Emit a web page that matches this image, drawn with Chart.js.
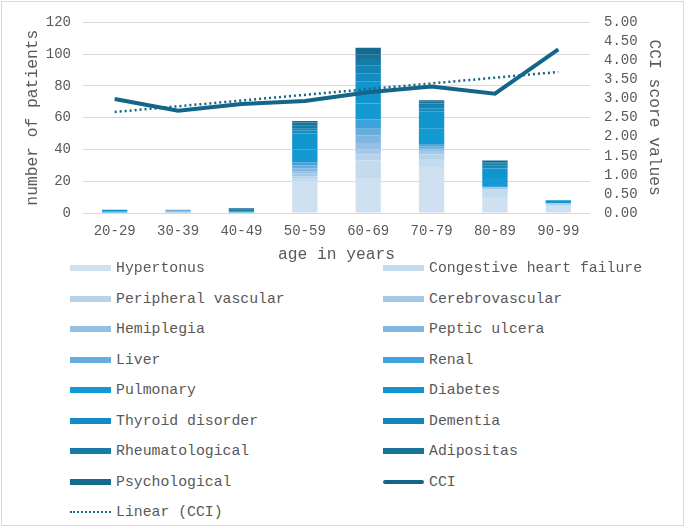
<!DOCTYPE html>
<html>
<head>
<meta charset="utf-8">
<script src="https://cdn.jsdelivr.net/npm/chart.js@4/dist/chart.umd.min.js"></script>
<style>
    body { margin: 0; background: #fff; }
    #wrap { position: relative; width: 685px; height: 528px; overflow: hidden; }
    #frame { position: absolute; left: 1px; top: 1px; width: 681px; height: 523px; border: 1px solid #d9d9d9; }
    #chart { position: absolute; left: 0; top: 0; }
    #legend { position: absolute; left: 0; top: 0; font-family: 'Liberation Mono', monospace; font-size: 14.8px; color: #595959; }
    .item { position: absolute; height: 20px; display: flex; align-items: center; white-space: nowrap; }
    .sw { width: 41px; height: 6px; margin-right: 5px; }
</style>
</head>
<body>
<div id="wrap">
    <div id="frame"></div>
    <canvas id="chart" width="685" height="275"></canvas>
    <div id="legend"></div>
</div>
<script>
const ageGroups = ['20-29', '30-39', '40-49', '50-59', '60-69', '70-79', '80-89', '90-99'];

const hypertonus    = [0, 0, 0, 20, 22, 29, 10, 4];
const heartFailure  = [0, 0, 0, 2, 11, 5, 4, 1];
const peripheral    = [0, 0, 0, 1, 4, 3, 1, 1];
const cerebro       = [0, 0, 0, 2, 3, 2, 1, 0];
const hemiplegia    = [0, 0, 0, 1, 4, 1, 0, 0];
const pepticUlcer   = [0, 1, 0, 2, 5, 1, 0, 0];
const liver         = [0, 1, 0, 2, 4, 1, 0, 0];
const renal         = [0, 0, 0, 2, 6, 1, 1, 0];
const pulmonary     = [1, 0, 0, 8, 10, 10, 5, 1];
const diabetes      = [1, 0, 1, 10, 14, 11, 6, 1];
const thyroid       = [0, 0, 0, 2, 5, 2, 1, 0];
const dementia      = [0, 0, 0, 1, 5, 2, 1, 0];
const rheumatol     = [0, 0, 1, 2, 4, 1, 1, 0];
const adipositas    = [0, 0, 0, 2, 3, 1, 1, 0];
const psychological = [0, 0, 1, 1, 4, 1, 1, 0];

const cciScore = [2.99, 2.68, 2.86, 2.94, 3.17, 3.32, 3.13, 4.29];
const cciTrend = [2.65, null, null, null, null, null, null, 3.70];

const patientTicks = [0, 20, 40, 60, 80, 100, 120];
const cciTicks = [0, 0.5, 1, 1.5, 2, 2.5, 3, 3.5, 4, 4.5, 5];

const barSeries = [
    ['Hypertonus', hypertonus, '#cfe1f1'],
    ['Congestive heart failure', heartFailure, '#c3dbef'],
    ['Peripheral vascular', peripheral, '#b6d3ec'],
    ['Cerebrovascular', cerebro, '#a4c9e8'],
    ['Hemiplegia', hemiplegia, '#93c0e4'],
    ['Peptic ulcera', pepticUlcer, '#80b6e0'],
    ['Liver', liver, '#67acde'],
    ['Renal', renal, '#3fa2d8'],
    ['Pulmonary', pulmonary, '#149ad2'],
    ['Diabetes', diabetes, '#1295cd'],
    ['Thyroid disorder', thyroid, '#128cc2'],
    ['Dementia', dementia, '#1485b6'],
    ['Rheumatological', rheumatol, '#167ba6'],
    ['Adipositas', adipositas, '#177399'],
    ['Psychological', psychological, '#156a8e']
];

const lineColor = '#13668a';
const textColor = '#595959';
const monoFont = "'Liberation Mono', monospace";

const datasets = barSeries.map(([label, data, color]) => ({
    type: 'bar',
    label: label,
    data: data,
    backgroundColor: color,
    borderWidth: 0,
    yAxisID: 'y',
    stack: 'all',
    order: 2,
    barPercentage: 0.4,
    categoryPercentage: 1
}));

datasets.push({
    type: 'line',
    label: 'CCI',
    data: cciScore,
    borderColor: lineColor,
    borderWidth: 4,
    pointRadius: 0,
    tension: 0,
    yAxisID: 'y1',
    order: 0
});

datasets.push({
    type: 'line',
    label: 'Linear (CCI)',
    data: cciTrend,
    borderColor: lineColor,
    borderWidth: 2.5,
    borderDash: [2, 3],
    pointRadius: 0,
    spanGaps: true,
    yAxisID: 'y1',
    order: 1
});

const ctx = document.getElementById('chart').getContext('2d');
const chart = new Chart(ctx, {
    type: 'bar',
    data: {
        labels: ageGroups,
        datasets: datasets
    },
    options: {
        responsive: false,
        animation: false,
        layout: {
            padding: { top: 18, left: 0, right: 0, bottom: 0 }
        },
        scales: {
            x: {
                stacked: true,
                grid: { display: false, drawTicks: false },
                border: { display: false },
                ticks: {
                    color: textColor,
                    padding: 10,
                    font: { family: monoFont, size: 14 }
                },
                title: {
                    display: true,
                    text: 'age in years',
                    color: textColor,
                    font: { family: monoFont, size: 16.3 },
                    padding: { top: 0, bottom: 11 }
                },
                afterFit: (scale) => { scale.height = 62; }
            },
            y: {
                stacked: true,
                position: 'left',
                min: 0,
                max: 120,
                afterBuildTicks: (scale) => {
                    scale.ticks = patientTicks.map(v => ({ value: v }));
                },
                grid: { color: '#d9d9d9', lineWidth: 1, drawTicks: false },
                border: { display: false },
                ticks: {
                    autoSkip: false,
                    color: textColor,
                    padding: 12,
                    font: { family: monoFont, size: 14 }
                },
                title: {
                    display: true,
                    text: 'number of patients',
                    color: textColor,
                    font: { family: monoFont, size: 16.3 },
                    padding: { top: 23, bottom: 0 }
                },
                afterFit: (scale) => { scale.width = 83; }
            },
            y1: {
                position: 'right',
                min: 0,
                max: 5,
                afterBuildTicks: (scale) => {
                    scale.ticks = cciTicks.map(v => ({ value: v }));
                },
                grid: { drawOnChartArea: false, drawTicks: false },
                border: { display: false },
                ticks: {
                    autoSkip: false,
                    color: textColor,
                    padding: 14,
                    font: { family: monoFont, size: 14 },
                    callback: (value) => Number(value).toFixed(2)
                },
                title: {
                    display: true,
                    text: 'CCI score values',
                    color: textColor,
                    font: { family: monoFont, size: 16.3 },
                    padding: { top: 21, bottom: 0 }
                },
                afterFit: (scale) => { scale.width = 95; }
            }
        },
        plugins: {
            legend: { display: false },
            tooltip: { enabled: false }
        }
    }
});

// legend in two columns, like the original
const legendBox = document.getElementById('legend');
chart.data.datasets.forEach((ds, i) => {
    const row = Math.floor(i / 2);
    const col = i % 2;
    const item = document.createElement('div');
    item.className = 'item';
    item.style.left = (col === 0 ? 70 : 383) + 'px';
    item.style.top = (268 + row * 30.5 - 10) + 'px';

    const sw = document.createElement('div');
    sw.className = 'sw';
    if (ds.label === 'CCI') {
        sw.style.height = '4px';
        sw.style.borderRadius = '2px';
        sw.style.background = lineColor;
    } else if (ds.label === 'Linear (CCI)') {
        sw.style.height = '0';
        sw.style.borderTop = '2.5px dotted ' + lineColor;
    } else {
        sw.style.background = ds.backgroundColor;
    }
    item.appendChild(sw);

    const txt = document.createElement('span');
    txt.textContent = ds.label;
    item.appendChild(txt);
    legendBox.appendChild(item);
});
</script>
</body>
</html>
